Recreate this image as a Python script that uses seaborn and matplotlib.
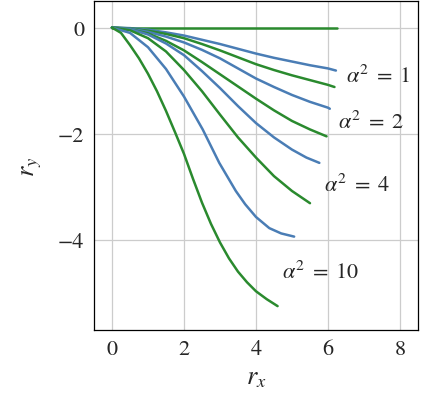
import matplotlib
matplotlib.use("Agg")
import matplotlib.pyplot as plt
import seaborn as sns

# colours of the two model families
BLUE = "#4a7db5"
GREEN = "#2a8a2e"

# alpha^2 = 0 (flat reference line)
flat_x = [0, 6.26]
flat_y = [0, 0]

# alpha^2 = 1
b1_x = [0, 0.5, 1, 1.5, 2, 2.5, 3, 3.5, 4, 4.5, 5, 5.5, 6, 6.22]
b1_y = [0, -0.01, -0.04, -0.09, -0.15, -0.23, -0.31, -0.40, -0.49, -0.57, -0.64, -0.71, -0.77, -0.81]
g1_x = [0, 0.5, 1, 1.5, 2, 2.5, 3, 3.5, 4, 4.5, 5, 5.5, 6, 6.18]
g1_y = [0, -0.015, -0.06, -0.12, -0.20, -0.31, -0.43, -0.56, -0.69, -0.80, -0.90, -0.99, -1.08, -1.12]

# alpha^2 = 2
b2_x = [0, 0.5, 1, 1.5, 2, 2.5, 3, 3.5, 4, 4.5, 5, 5.5, 6, 6.05]
b2_y = [0, -0.02, -0.08, -0.17, -0.28, -0.42, -0.58, -0.77, -0.96, -1.12, -1.27, -1.40, -1.51, -1.53]
g2_x = [0, 0.5, 1, 1.5, 2, 2.5, 3, 3.5, 4, 4.5, 5, 5.5, 5.96]
g2_y = [0, -0.03, -0.11, -0.25, -0.43, -0.65, -0.88, -1.11, -1.34, -1.56, -1.76, -1.92, -2.05]

# alpha^2 = 4
b4_x = [0, 0.5, 1, 1.5, 2, 2.5, 3, 3.5, 4, 4.5, 5, 5.4, 5.76]
b4_y = [0, -0.03, -0.13, -0.30, -0.52, -0.82, -1.14, -1.48, -1.80, -2.07, -2.30, -2.45, -2.55]
g4_x = [0, 0.5, 1, 1.5, 2, 2.5, 3, 3.5, 4, 4.5, 5, 5.5]
g4_y = [0, -0.05, -0.20, -0.45, -0.80, -1.20, -1.64, -2.07, -2.45, -2.80, -3.08, -3.31]

# alpha^2 = 10
b10_x = [0, 0.5, 1, 1.5, 2, 2.52, 2.98, 3.44, 3.7, 4, 4.37, 4.7, 5.06]
b10_y = [0, -0.10, -0.37, -0.78, -1.30, -1.92, -2.55, -3.08, -3.33, -3.57, -3.78, -3.88, -3.94]
g10_x = [0, 0.25, 0.5, 0.75, 1.0, 1.25, 1.5, 1.75, 2.0, 2.25, 2.5, 2.75, 3.0, 3.25, 3.5, 3.75, 4.0, 4.3, 4.6]
g10_y = [0, -0.10, -0.33, -0.58, -0.87, -1.20, -1.57, -1.97, -2.38, -2.85, -3.30, -3.70, -4.05, -4.35, -4.60, -4.80, -4.97, -5.12, -5.25]

labels = ["$\\alpha^2 \\;=\\; 1$", "$\\alpha^2 \\;=\\; 2$",
          "$\\alpha^2 \\;=\\; 4$", "$\\alpha^2 \\;=\\; 10$"]
label_pos = [(7.38, -0.90), (7.18, -1.77), (6.81, -2.96), (5.78, -4.60)]

sns.set_style("whitegrid")
plt.rcParams["font.family"] = ["STIXGeneral", "DejaVu Serif"]
plt.rcParams["mathtext.fontset"] = "stix"

fig = plt.figure(figsize=(4.22, 4.10), dpi=100)
ax = fig.add_axes([0.2227, 0.1927, 0.7678, 0.8023])

curves = [
    (flat_x, flat_y, GREEN),
    (b1_x, b1_y, BLUE), (g1_x, g1_y, GREEN),
    (b2_x, b2_y, BLUE), (g2_x, g2_y, GREEN),
    (b4_x, b4_y, BLUE), (g4_x, g4_y, GREEN),
    (b10_x, b10_y, BLUE), (g10_x, g10_y, GREEN),
]
for xs, ys, col in curves:
    sns.lineplot(x=xs, y=ys, color=col, linewidth=1.8, sort=False,
                 estimator=None, ax=ax)

for txt, (tx, ty) in zip(labels, label_pos):
    ax.text(tx, ty, txt, fontsize=16, ha="center", va="center")

ax.set_xlim(-0.5, 8.5)
ax.set_ylim(-5.7, 0.5)
ax.set_xticks([0, 2, 4, 6, 8])
ax.set_yticks([-4, -2, 0])
ax.set_yticklabels(["\u22124", "\u22122", "0"])
ax.tick_params(labelsize=16, length=0, pad=7)
ax.grid(True, color="#cccccc", linewidth=0.9)
for sp in ax.spines.values():
    sp.set_color("black")
    sp.set_linewidth(0.9)

ax.set_xlabel("$r_x$", fontsize=19, labelpad=4)
ax.set_ylabel("$r_y$", fontsize=19, labelpad=10)

fig.savefig("out.png", dpi=100)
